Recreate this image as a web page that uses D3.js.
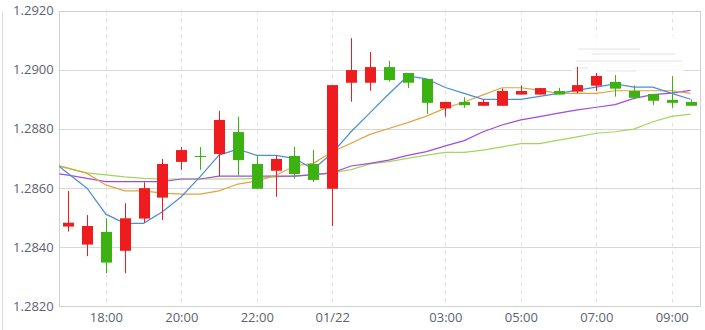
<!doctype html>
<html>

<head>
    <title>GBP candlestick 30min</title>
    <script src="https://d3js.org/d3.v7.min.js"></script>
    <style>
        body {
            margin: 0;
            background: #fff;
        }

        text {
            font-family: 'Open Sans', sans-serif;
        }
    </style>
</head>

<body>
    <div id="my_dataviz"></div>

    <script>
        // candles, half-hour bars (red = up, green = down)
        var times = ["01-21 17:00", "01-21 17:30", "01-21 18:00", "01-21 18:30", "01-21 19:00", "01-21 19:30",
            "01-21 20:00", "01-21 20:30", "01-21 21:00", "01-21 21:30", "01-21 22:00", "01-21 22:30",
            "01-21 23:00", "01-21 23:30", "01-22 00:00", "01-22 00:30", "01-22 01:00", "01-22 01:30",
            "01-22 02:00", "01-22 02:30", "01-22 03:00", "01-22 03:30", "01-22 04:00", "01-22 04:30",
            "01-22 05:00", "01-22 05:30", "01-22 06:00", "01-22 06:30", "01-22 07:00", "01-22 07:30",
            "01-22 08:00", "01-22 08:30", "01-22 09:00", "01-22 09:30"];
        var open = [1.28469, 1.28408, 1.28451, 1.28387, 1.28496, 1.28567, 1.28688, 1.28708, 1.28715, 1.28789,
            1.28681, 1.28658, 1.28708, 1.28681, 1.28597, 1.28956, 1.28956, 1.29009, 1.28989, 1.28969,
            1.28869, 1.28891, 1.28878, 1.28878, 1.28916, 1.28916, 1.28928, 1.28926, 1.28946, 1.28959,
            1.28928, 1.28918, 1.28898, 1.28891];
        var high = [1.28589, 1.28508, 1.28497, 1.28548, 1.28619, 1.28698, 1.28738, 1.28738, 1.28861, 1.28841,
            1.28711, 1.28710, 1.28739, 1.28728, 1.28948, 1.29107, 1.29060, 1.29030, 1.28989, 1.28969,
            1.28891, 1.28907, 1.28900, 1.28937, 1.28947, 1.28938, 1.28939, 1.29010, 1.28989, 1.28982,
            1.28947, 1.28918, 1.28979, 1.28900];
        var low = [1.28452, 1.28369, 1.28311, 1.28311, 1.28482, 1.28491, 1.28661, 1.28661, 1.28640, 1.28641,
            1.28597, 1.28570, 1.28631, 1.28620, 1.28471, 1.28892, 1.28929, 1.28960, 1.28938, 1.28850,
            1.28841, 1.28871, 1.28878, 1.28878, 1.28916, 1.28916, 1.28916, 1.28920, 1.28928, 1.28909,
            1.28900, 1.28881, 1.28871, 1.28878];
        var close = [1.28482, 1.28471, 1.28347, 1.28497, 1.28599, 1.28681, 1.28728, 1.28708, 1.28830, 1.28694,
            1.28597, 1.28698, 1.28647, 1.28627, 1.28948, 1.28999, 1.29009, 1.28965, 1.28956, 1.28888,
            1.28891, 1.28880, 1.28891, 1.28928, 1.28928, 1.28938, 1.28916, 1.28948, 1.28979, 1.28936,
            1.28905, 1.28895, 1.28888, 1.28878];

        // moving averages, first value belongs to the bar before the window (16:30)
        var maTimes = ["01-21 16:30"].concat(times);
        var ma5 = [1.28699, 1.28649, 1.28599, 1.28511, 1.28480, 1.28480, 1.28519, 1.28570, 1.28638, 1.28711,
            1.28731, 1.28710, 1.28710, 1.28700, 1.28663, 1.28718, 1.28790, 1.28854, 1.28918, 1.28979,
            1.28969, 1.28940, 1.28920, 1.28900, 1.28900, 1.28900, 1.28910, 1.28920, 1.28931, 1.28941,
            1.28952, 1.28941, 1.28941, 1.28920, 1.28900];
        var ma10 = [1.28684, 1.28667, 1.28649, 1.28610, 1.28590, 1.28590, 1.28582, 1.28579, 1.28579, 1.28590,
            1.28613, 1.28623, 1.28642, 1.28674, 1.28683, 1.28722, 1.28751, 1.28781, 1.28801, 1.28821,
            1.28843, 1.28870, 1.28891, 1.28915, 1.28939, 1.28939, 1.28931, 1.28920, 1.28920, 1.28920,
            1.28929, 1.28929, 1.28929, 1.28929, 1.28920];
        var ma20 = [1.28652, 1.28643, 1.28632, 1.28621, 1.28621, 1.28621, 1.28621, 1.28630, 1.28630, 1.28640,
            1.28640, 1.28640, 1.28640, 1.28640, 1.28645, 1.28651, 1.28674, 1.28683, 1.28694, 1.28710,
            1.28723, 1.28742, 1.28760, 1.28790, 1.28813, 1.28830, 1.28841, 1.28853, 1.28864, 1.28873,
            1.28882, 1.28903, 1.28916, 1.28921, 1.28930];
        var ma30 = [1.28680, 1.28666, 1.28651, 1.28644, 1.28637, 1.28632, 1.28630, 1.28630, 1.28630, 1.28630,
            1.28630, 1.28632, 1.28637, 1.28640, 1.28644, 1.28651, 1.28662, 1.28681, 1.28689, 1.28700,
            1.28711, 1.28720, 1.28720, 1.28728, 1.28739, 1.28750, 1.28750, 1.28762, 1.28773, 1.28785,
            1.28790, 1.28799, 1.28824, 1.28842, 1.28850];

        // axis ticks
        var yTicks = [1.2820, 1.2840, 1.2860, 1.2880, 1.2900, 1.2920];
        var xTicks = ["01-21 18:00", "01-21 20:00", "01-21 22:00", "01-22 00:00", "01-22 03:00",
            "01-22 05:00", "01-22 07:00", "01-22 09:00"];

        var upColor = "#ee1c1e",
            downColor = "#3bb212",
            lineColors = ["#4a8ede", "#e2a342", "#a04be2", "#a2d65a"];

        var W = 705,
            H = 330;
        var margin = { top: 10.7, right: 5, bottom: 24, left: 58.7 };

        var parse = d3.timeParse("%m-%d %H:%M");
        var half = 15 * 60 * 1000;

        var svg = d3.select("#my_dataviz")
            .append("svg")
            .attr("width", W)
            .attr("height", H);

        var x = d3.scaleTime()
            .domain([new Date(+parse(times[0]) - half), new Date(+parse(times[times.length - 1]) + half)])
            .range([margin.left, W - margin.right]);

        var y = d3.scaleLinear()
            .domain([1.2820, 1.2920])
            .range([H - margin.bottom, margin.top]);

        function px(v) { return Math.round(v) + 0.5; }

        // page border on the left
        svg.append("line")
            .attr("x1", 2.5).attr("x2", 2.5)
            .attr("y1", 12).attr("y2", H)
            .attr("stroke", "#dadada");

        // vertical dashed grid
        svg.append("g")
            .selectAll("line")
            .data(xTicks)
            .enter()
            .append("line")
            .attr("x1", function (d) { return px(x(parse(d))); })
            .attr("x2", function (d) { return px(x(parse(d))); })
            .attr("y1", y(1.2920))
            .attr("y2", y(1.2820))
            .attr("stroke", "#e3e3e3")
            .attr("stroke-dasharray", "4,4");

        // horizontal grid
        svg.append("g")
            .selectAll("line")
            .data(yTicks)
            .enter()
            .append("line")
            .attr("x1", margin.left)
            .attr("x2", W - margin.right)
            .attr("y1", function (d) { return px(y(d)); })
            .attr("y2", function (d) { return px(y(d)); })
            .attr("stroke", "#d8d8d8");

        // frame
        svg.append("rect")
            .attr("x", px(margin.left))
            .attr("y", px(margin.top))
            .attr("width", px(W - margin.right) - px(margin.left))
            .attr("height", px(H - margin.bottom) - px(margin.top))
            .attr("fill", "none")
            .attr("stroke", "#d0d0d0");

        // faint watermark over the top right
        var wm = svg.append("g");
        wm.append("rect")
            .attr("x", 572).attr("y", 36)
            .attr("width", 112).attr("height", 40)
            .attr("fill", "#fff")
            .attr("opacity", 0.85);
        wm.selectAll("line")
            .data([[578, 640, 49], [592, 676, 54], [576, 682, 61], [575, 588, 68], [606, 636, 71]])
            .enter()
            .append("line")
            .attr("x1", function (d) { return d[0]; })
            .attr("x2", function (d) { return d[1]; })
            .attr("y1", function (d) { return d[2]; })
            .attr("y2", function (d) { return d[2]; })
            .attr("stroke", "#f1f1f1")
            .attr("stroke-width", 2);

        // y axis labels
        svg.append("g")
            .attr("transform", "translate(" + (margin.left - 5) + ",0)")
            .call(d3.axisLeft(y).tickValues(yTicks).tickFormat(d3.format(".4f")).tickSize(0).tickPadding(0))
            .call(function (g) { g.select(".domain").remove(); })
            .selectAll("text")
            .attr("font-size", 13)
            .attr("font-family", "'Open Sans', sans-serif")
            .attr("fill", "#5c6370");

        // x axis labels
        svg.append("g")
            .attr("transform", "translate(0," + (H - margin.bottom) + ")")
            .call(d3.axisBottom(x)
                .tickValues(xTicks.map(parse))
                .tickFormat(function (d) {
                    return d.getHours() === 0 ? d3.timeFormat("%m/%d")(d) : d3.timeFormat("%H:%M")(d);
                })
                .tickSize(0)
                .tickPadding(7))
            .call(function (g) { g.select(".domain").remove(); })
            .selectAll("text")
            .attr("font-size", 13)
            .attr("font-family", "'Open Sans', sans-serif")
            .attr("fill", "#5c6370");

        // clip for the average lines
        svg.append("clipPath")
            .attr("id", "plotClip")
            .append("rect")
            .attr("x", margin.left + 0.5)
            .attr("y", margin.top)
            .attr("width", W - margin.right - margin.left - 0.5)
            .attr("height", H - margin.bottom - margin.top);

        // moving average lines
        var maList = [ma5, ma10, ma20, ma30];
        var line = d3.line()
            .x(function (d, i) { return x(parse(maTimes[i])); })
            .y(function (d) { return y(d); });

        svg.append("g")
            .attr("clip-path", "url(#plotClip)")
            .selectAll("path")
            .data([ma30, ma20, ma10, ma5])
            .enter()
            .append("path")
            .attr("d", line)
            .attr("fill", "none")
            .attr("stroke", function (d) { return lineColors[maList.indexOf(d)]; })
            .attr("stroke-width", 1.2);

        // candles
        var bars = times.map(function (t, i) {
            return { t: parse(t), o: open[i], h: high[i], l: low[i], c: close[i] };
        });

        var candle = svg.append("g")
            .selectAll("g")
            .data(bars)
            .enter()
            .append("g");

        candle.append("line")
            .attr("x1", function (d) { return Math.round(x(d.t)) + 0.5; })
            .attr("x2", function (d) { return Math.round(x(d.t)) + 0.5; })
            .attr("y1", function (d) { return y(d.h); })
            .attr("y2", function (d) { return y(d.l); })
            .attr("stroke", function (d) { return d.c > d.o ? upColor : downColor; });

        candle.append("rect")
            .attr("x", function (d) { return Math.round(x(d.t)) - 5; })
            .attr("width", 11)
            .attr("y", function (d) { return y(Math.max(d.o, d.c)); })
            .attr("height", function (d) { return Math.max(1, y(Math.min(d.o, d.c)) - y(Math.max(d.o, d.c))); })
            .attr("fill", function (d) { return d.c > d.o ? upColor : downColor; });
    </script>

</body>

</html>
